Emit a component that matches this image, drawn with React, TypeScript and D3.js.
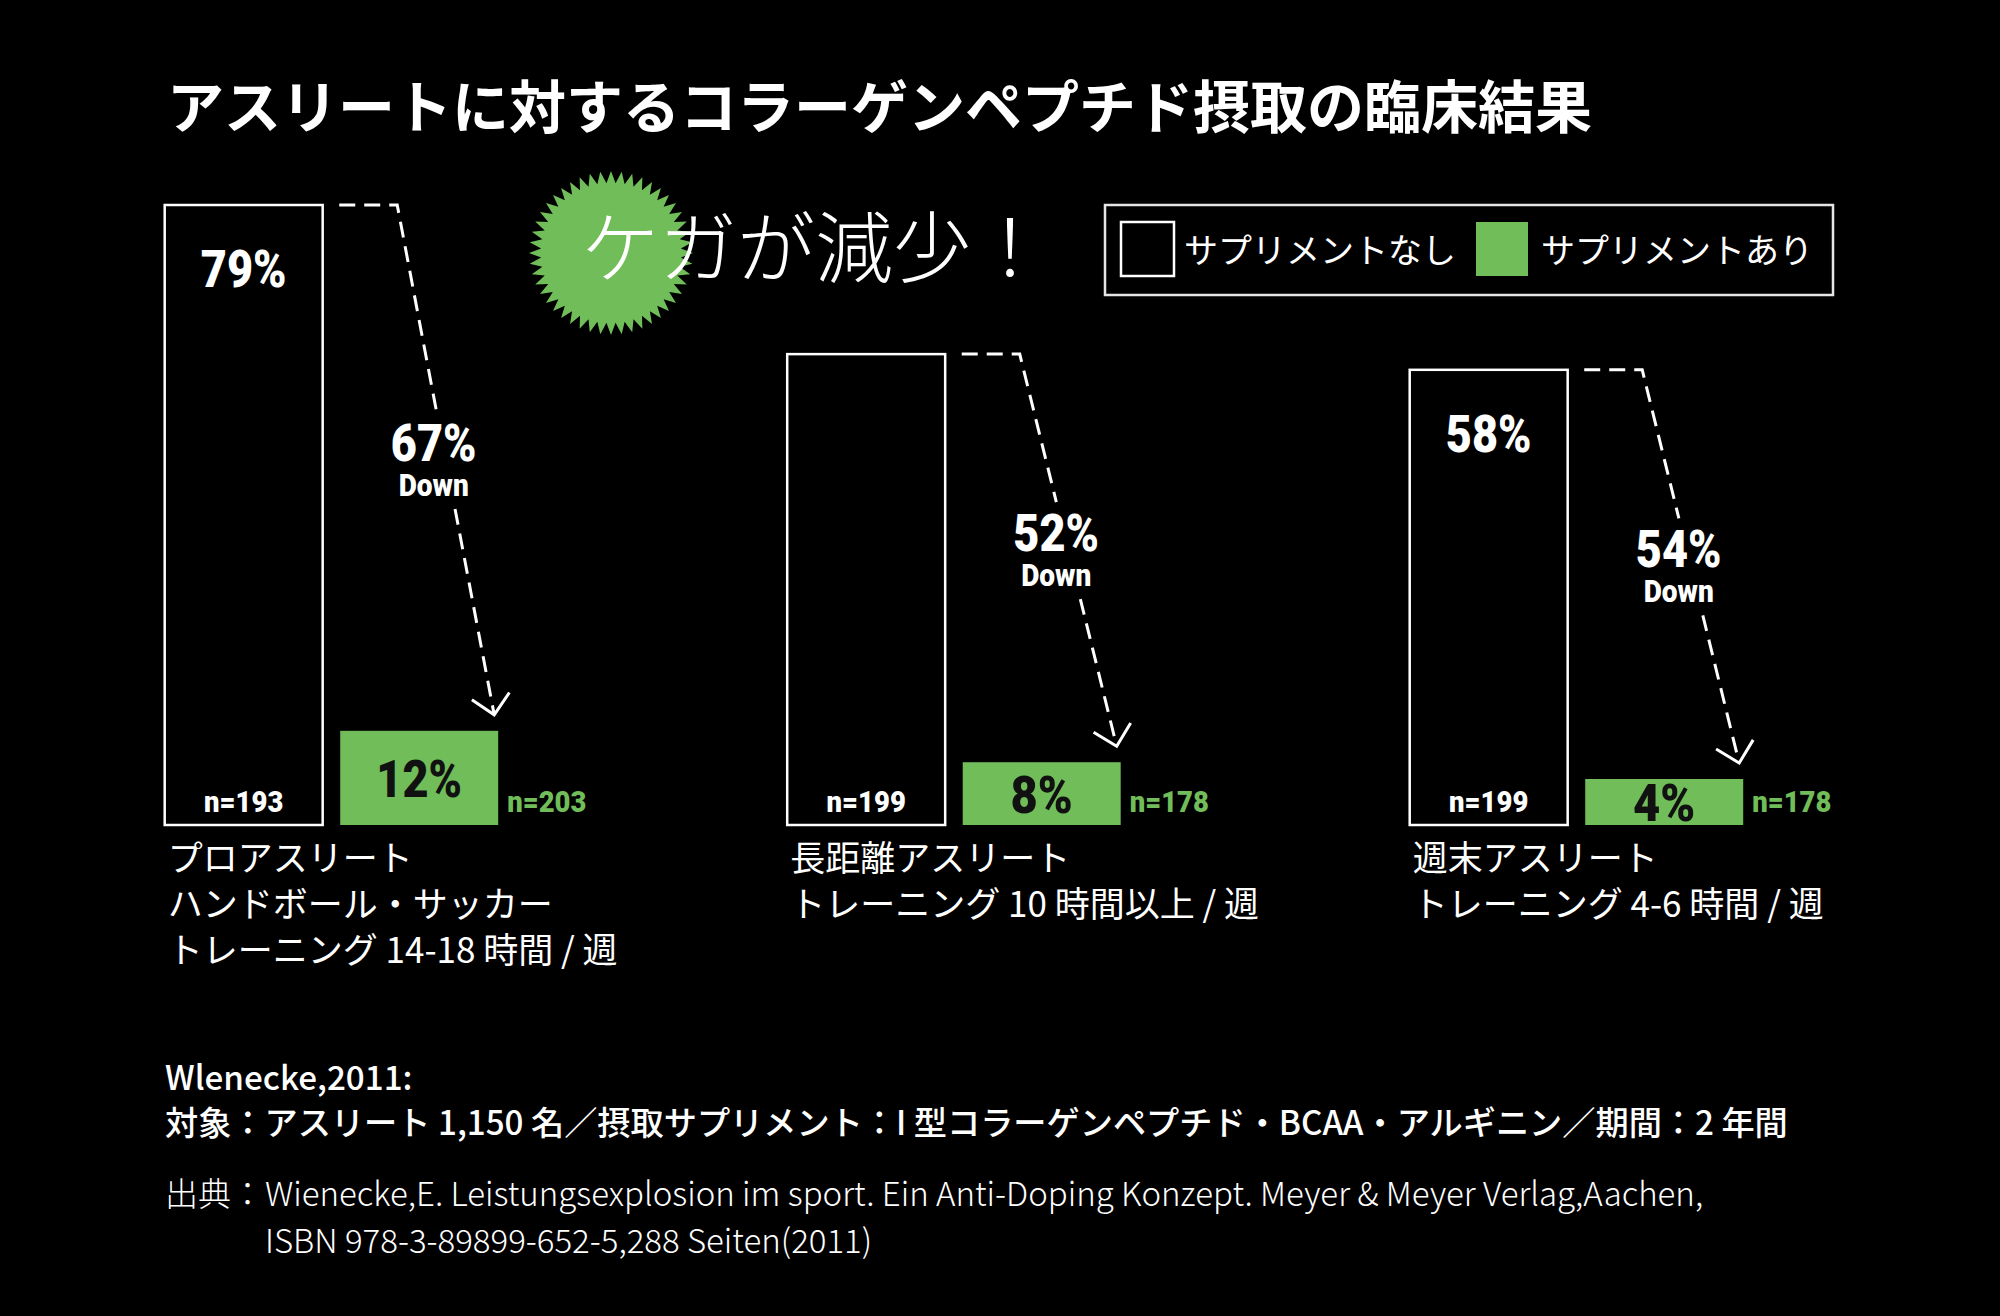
import React from "react";
import * as d3 from "d3";

// ---------- data ----------
const groups = ["pro", "distance", "weekend"];
const series = ["サプリメントなし", "サプリメントあり"];
const withoutValues = [79, 60, 58];
const withValues = [12, 8, 4];
const withoutN = [193, 199, 199];
const withN = [203, 178, 178];
const withoutLabelShown = [true, false, true];
const categoryLines = [
  ["プロアスリート", "ハンドボール・サッカー", "トレーニング 14-18 時間 / 週"],
  ["長距離アスリート", "トレーニング 10 時間以上 / 週"],
  ["週末アスリート", "トレーニング 4-6 時間 / 週"],
];
const title = "アスリートに対するコラーゲンペプチド摂取の臨床結果";
const headline = "ケガが減少！";
const studyLines = [
  "Wlenecke,2011:",
  "対象：アスリート 1,150 名／摂取サプリメント：I 型コラーゲンペプチド・BCAA・アルギニン／期間：2 年間",
];
const sourceLabel = "出典：";
const sourceLines = [
  "Wienecke,E. Leistungsexplosion im sport. Ein Anti-Doping Konzept. Meyer & Meyer Verlag,Aachen,",
  "ISBN 978-3-89899-652-5,288 Seiten(2011)",
];

// ---------- style ----------
const W = 2000;
const H = 1316;
const GREEN = "#70bd59";
const JP = "'Noto Sans CJK JP', 'Noto Sans JP', 'Noto Sans', sans-serif";
const COND = "Roboto, 'Liberation Sans', sans-serif";

// approximate advance widths (em) of a condensed bold grotesque
const condWidths: Record<string, number> = {
  "%": 0.76,
  n: 0.6,
  "=": 0.66,
};
function condLength(s: string, size: number): number {
  if (s === "Down") return 2.26 * size;
  let w = 0;
  for (const c of s) w += condWidths[c] ?? 0.46;
  return w * size;
}

type CTProps = {
  x: number;
  y: number;
  size: number;
  fill: string;
  anchor?: "start" | "middle" | "end";
  children: string;
};
function CondText({ x, y, size, fill, anchor = "start", children }: CTProps) {
  return (
    <text
      x={x}
      y={y}
      textAnchor={anchor}
      fill={fill}
      fontFamily={COND}
      fontWeight={900}
      fontSize={size}
      textLength={condLength(children, size)}
      lengthAdjust="spacingAndGlyphs"
    >
      {children}
    </text>
  );
}

export default function App() {
  const x0 = d3
    .scaleBand<string>()
    .domain(groups)
    .range([164.7, 164.7 + 622.5 * 3])
    .paddingInner(0)
    .paddingOuter(0);
  const xi = d3.scaleBand<string>().domain(series).range([0, 333.5]).paddingInner(0.1);
  const y = d3.scaleLinear().domain([0, 79]).range([825, 205]);
  const bw = xi.bandwidth();
  const minGreenH = 46;

  const line = d3.line<[number, number]>();

  const star = d3
    .lineRadial<[number, number]>()
    .angle((d) => d[0])
    .radius((d) => d[1])
    .curve(d3.curveLinearClosed);
  const N = 48;
  const starPts: [number, number][] = d3
    .range(N * 2)
    .map((i) => [(i * Math.PI) / N, i % 2 === 0 ? 82 : 70]);

  return (
    <svg
      width={W}
      height={H}
      style={{ position: "absolute", left: 0, top: 0, display: "block" }}
    >
      <rect x={0} y={0} width={W} height={H} fill="#000" />

      {/* title */}
      <text x={167} y={128} fill="#fff" fontFamily={JP} fontWeight={700} fontSize={57}>
        {title}
      </text>

      {/* starburst + headline */}
      <path d={star(starPts) || ""} transform="translate(611,253)" fill={GREEN} />
      <text x={581} y={277} fill="#fff" fontFamily={JP} fontWeight={300} fontSize={78}>
        {headline}
      </text>

      {/* legend */}
      <rect x={1105} y={205} width={728} height={90} fill="none" stroke="#e6e6e6" strokeWidth={2.5} />
      <rect x={1121} y={222} width={53} height={54} fill="#000" stroke="#fff" strokeWidth={2.5} />
      <text x={1184} y={263} fill="#fff" fontFamily={JP} fontSize={34}>
        {series[0]}
      </text>
      <rect x={1476} y={222} width={52} height={54} fill={GREEN} />
      <text x={1541} y={263} fill="#fff" fontFamily={JP} fontSize={34}>
        {series[1]}
      </text>

      {groups.map((g, i) => {
        const gx = x0(g)!;
        const wx = gx + xi(series[0])!;
        const gxx = gx + xi(series[1])!;
        const base = y(0);
        const wTop = y(withoutValues[i]);
        const gTop = Math.min(y(withValues[i]), base - minGreenH);
        const drop = withoutValues[i] - withValues[i];

        // dashed arrow geometry
        const start: [number, number] = [gxx - 1, wTop];
        const corner: [number, number] = [gxx + 57, wTop];
        const tip: [number, number] = [gxx + bw - 4, gTop - 16];
        const mid = (wTop + tip[1]) / 2;
        const atY = (yy: number): [number, number] => [
          corner[0] + ((tip[0] - corner[0]) * (yy - corner[1])) / (tip[1] - corner[1]),
          yy,
        ];
        const gapA = atY(mid - 48);
        const gapB = atY(mid + 49);
        const dx = tip[0] - corner[0];
        const dy = tip[1] - corner[1];
        const len = Math.hypot(dx, dy);
        const ux = -dx / len;
        const uy = -dy / len;
        const armLen = 27;
        const rot = (a: number): [number, number] => [
          tip[0] + armLen * (ux * Math.cos(a) - uy * Math.sin(a)),
          tip[1] + armLen * (ux * Math.sin(a) + uy * Math.cos(a)),
        ];
        const labelX = atY(mid)[0] - 12;

        return (
          <g key={g}>
            <rect
              x={wx}
              y={wTop}
              width={bw}
              height={base - wTop}
              fill="#000"
              stroke="#fff"
              strokeWidth={2.5}
            />
            <rect x={gxx} y={gTop} width={bw} height={base - gTop} fill={GREEN} />

            {withoutLabelShown[i] && (
              <CondText x={wx + bw / 2} y={wTop + 82} anchor="middle" fill="#fff" size={51}>
                {`${withoutValues[i]}%`}
              </CondText>
            )}
            <CondText x={wx + bw / 2} y={base - 13} anchor="middle" fill="#fff" size={30}>
              {`n=${withoutN[i]}`}
            </CondText>
            <CondText x={gxx + bw / 2} y={(gTop + base) / 2 + 19} anchor="middle" fill="#111" size={51}>
              {`${withValues[i]}%`}
            </CondText>
            <CondText x={gxx + bw + 9} y={base - 13} fill={GREEN} size={30}>
              {`n=${withN[i]}`}
            </CondText>

            <path
              d={line([start, corner, gapA]) || ""}
              fill="none"
              stroke="#fff"
              strokeWidth={3}
              strokeDasharray="16 9"
            />
            <path
              d={line([gapB, tip]) || ""}
              fill="none"
              stroke="#fff"
              strokeWidth={3}
              strokeDasharray="16 9"
            />
            <path
              d={line([rot(Math.PI / 4), tip, rot(-Math.PI / 4)]) || ""}
              fill="none"
              stroke="#fff"
              strokeWidth={3}
            />
            <CondText x={labelX} y={mid + 1} anchor="middle" fill="#fff" size={51}>
              {`${drop}%`}
            </CondText>
            <CondText x={labelX} y={mid + 36} anchor="middle" fill="#fff" size={31}>
              Down
            </CondText>

            {categoryLines[i].map((t, k) => (
              <text
                key={k}
                x={wx + 3}
                y={871 + k * 46}
                fill="#fff"
                fontFamily={JP}
                fontWeight={400}
                fontSize={35}
              >
                {t}
              </text>
            ))}
          </g>
        );
      })}

      {/* footnotes */}
      {studyLines.map((t, k) => (
        <text key={k} x={165} y={1090 + k * 45} fill="#fff" fontFamily={JP} fontWeight={500} fontSize={33.2}>
          {t}
        </text>
      ))}
      <text x={165} y={1206} fill="#fff" fontFamily={JP} fontWeight={300} fontSize={33}>
        {sourceLabel}
      </text>
      {sourceLines.map((t, k) => (
        <text key={k} x={265} y={1206 + k * 47} fill="#fff" fontFamily={JP} fontWeight={300} fontSize={33}>
          {t}
        </text>
      ))}
    </svg>
  );
}
